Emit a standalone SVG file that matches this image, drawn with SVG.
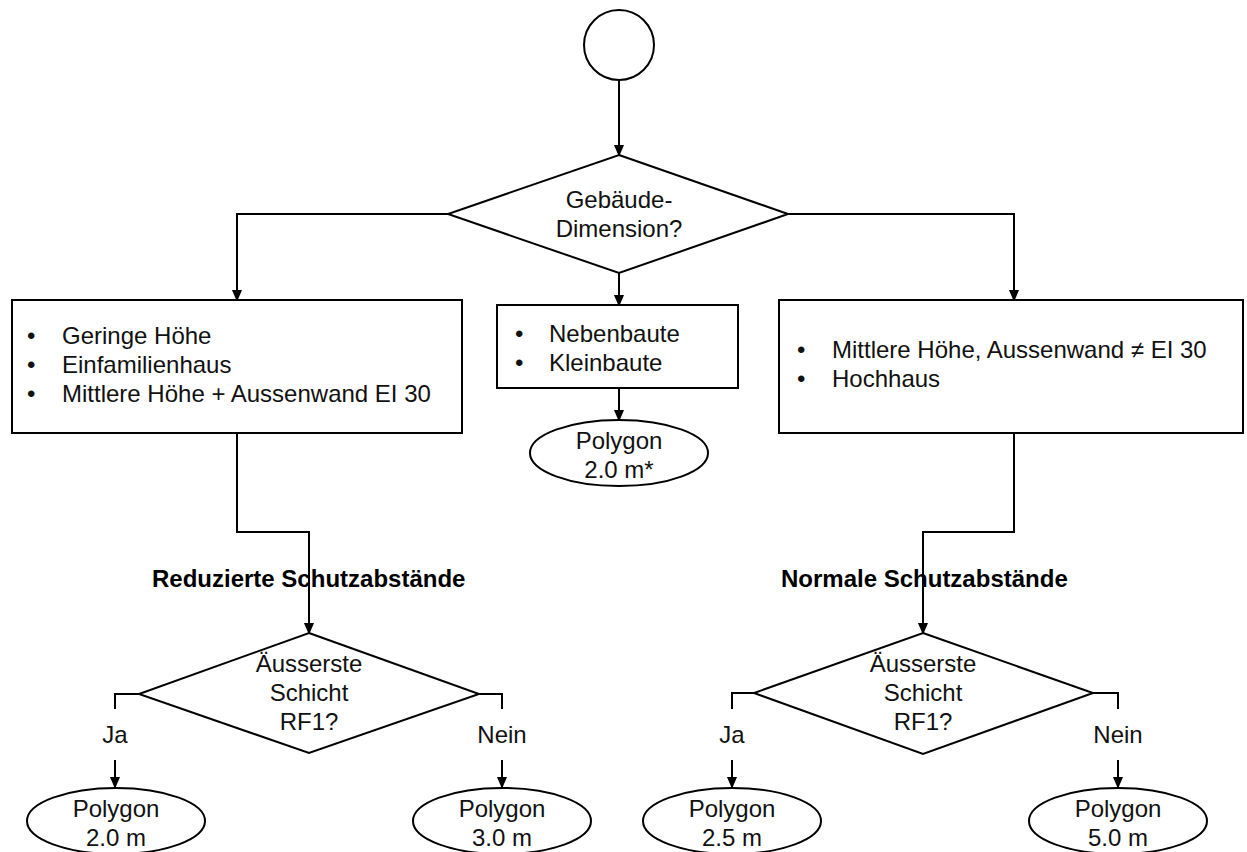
<svg xmlns="http://www.w3.org/2000/svg" width="1247" height="852" viewBox="0 0 1247 852">
<defs>
<marker id="ah" markerWidth="12" markerHeight="14" refX="12" refY="6" orient="auto" markerUnits="userSpaceOnUse" viewBox="0 0 14 12">
<path d="M0,0 L14,6 L0,12 z" fill="#000"/>
</marker>
<style>
.s{fill:#fff;stroke:#000;stroke-width:2}
.c{fill:none;stroke:#000;stroke-width:2}
.a{fill:none;stroke:#000;stroke-width:2;marker-end:url(#ah)}
text{font-family:"Liberation Sans",Arial,sans-serif;font-size:24px;fill:#111}
.m{text-anchor:middle}
.b{font-weight:bold;fill:#000}
</style>
</defs>
<rect width="1247" height="852" fill="#fff"/>
<g id="connectors">
<path class="a" d="M619,80 V155"/>
<path class="a" d="M448,214 H237 V300"/>
<path class="a" d="M619,273 V305"/>
<path class="a" d="M788,214 H1014 V300"/>
<path class="a" d="M619,388 V420"/>
<path class="a" d="M237,433 V532 H309 V633"/>
<path class="a" d="M1014,433 V532 H923 V633"/>
<path class="c" d="M139,694 H115 V709"/>
<path class="a" d="M115,760 V787"/>
<path class="c" d="M479,694 H502 V709"/>
<path class="a" d="M502,760 V787"/>
<path class="c" d="M754,693 H732 V709"/>
<path class="a" d="M732,760 V787"/>
<path class="c" d="M1093,693 H1118 V709"/>
<path class="a" d="M1118,760 V787"/>
</g>
<g id="labels">
<text class="b" x="152" y="587">Reduzierte Schutzabstände</text>
<text class="b" x="781" y="587">Normale Schutzabstände</text>
<text class="m" x="115" y="743">Ja</text>
<text class="m" x="502" y="743">Nein</text>
<text class="m" x="732" y="743">Ja</text>
<text class="m" x="1118" y="743">Nein</text>
</g>
<g id="start"><circle class="s" cx="619" cy="45" r="35"/></g>
<g id="d_dimension">
<polygon class="s" points="619,155 788,214 619,273 448,214"/>
<text class="m" x="619" y="208">Gebäude-</text>
<text class="m" x="619" y="237">Dimension?</text>
</g>
<g id="box_left">
<rect class="s" x="12" y="300" width="450" height="133"/>
<text x="27" y="344">•</text><text x="62" y="344">Geringe Höhe</text>
<text x="27" y="373">•</text><text x="62" y="373">Einfamilienhaus</text>
<text x="27" y="402">•</text><text x="62" y="402">Mittlere Höhe + Aussenwand EI 30</text>
</g>
<g id="box_mid">
<rect class="s" x="497" y="305" width="241" height="83"/>
<text x="515" y="342">•</text><text x="549" y="342">Nebenbaute</text>
<text x="515" y="371">•</text><text x="549" y="371">Kleinbaute</text>
</g>
<g id="box_right">
<rect class="s" x="779" y="300" width="464" height="133"/>
<text x="797" y="358">•</text><text x="832" y="358">Mittlere Höhe, Aussenwand ≠ EI 30</text>
<text x="797" y="387">•</text><text x="832" y="387">Hochhaus</text>
</g>
<g id="e_mid">
<ellipse class="s" cx="619" cy="453" rx="89" ry="33"/>
<text class="m" x="619" y="449">Polygon</text>
<text class="m" x="619" y="478">2.0 m*</text>
</g>
<g id="d_left">
<polygon class="s" points="309,633 479,694 309,753 139,694"/>
<text class="m" x="309" y="672">Äusserste</text>
<text class="m" x="309" y="701">Schicht</text>
<text class="m" x="309" y="730">RF1?</text>
</g>
<g id="d_right">
<polygon class="s" points="923,633 1093,693 923,754 754,693"/>
<text class="m" x="923" y="672">Äusserste</text>
<text class="m" x="923" y="701">Schicht</text>
<text class="m" x="923" y="730">RF1?</text>
</g>
<g id="e_20">
<ellipse class="s" cx="116" cy="821" rx="89" ry="33"/>
<text class="m" x="116" y="817">Polygon</text>
<text class="m" x="116" y="846">2.0 m</text>
</g>
<g id="e_30">
<ellipse class="s" cx="502" cy="821" rx="89" ry="33"/>
<text class="m" x="502" y="817">Polygon</text>
<text class="m" x="502" y="846">3.0 m</text>
</g>
<g id="e_25">
<ellipse class="s" cx="732" cy="821" rx="89" ry="33"/>
<text class="m" x="732" y="817">Polygon</text>
<text class="m" x="732" y="846">2.5 m</text>
</g>
<g id="e_50">
<ellipse class="s" cx="1118" cy="821" rx="89" ry="33"/>
<text class="m" x="1118" y="817">Polygon</text>
<text class="m" x="1118" y="846">5.0 m</text>
</g>
</svg>
